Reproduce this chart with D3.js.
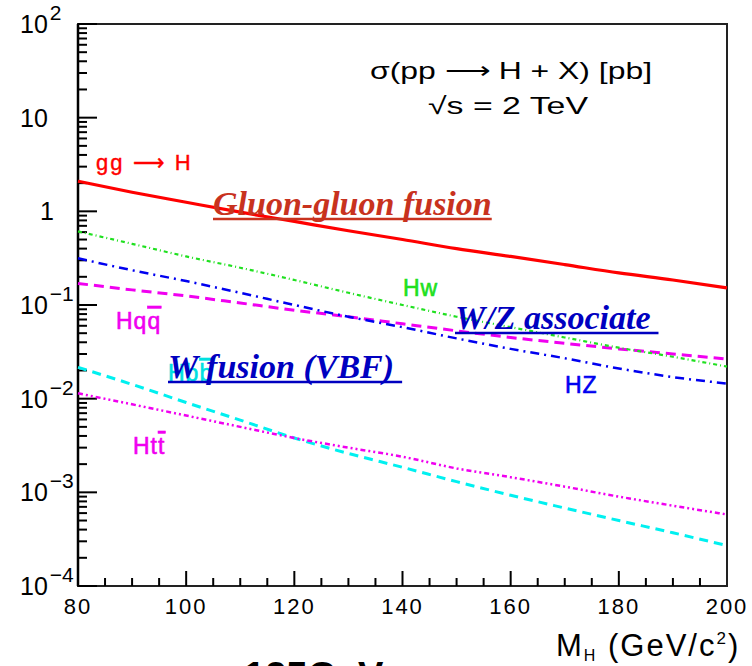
<!DOCTYPE html>
<html>
<head>
<meta charset="utf-8">
<script src="https://cdn.jsdelivr.net/npm/d3@7"></script>
<style>
  body { margin: 0; background: #fff; }
  svg { display: block; font-family: "Liberation Sans", Arial, sans-serif; }
</style>
</head>
<body>
<div id="chart"></div>
<script>
(function () {
    var width = 752, height = 666;

    // masses (GeV/c^2)
    var masses = [80, 90, 100, 110, 120, 130, 140, 150, 160, 170, 180, 190, 200];

    // cross sections in pb
    var ggH = [2.1, 1.6, 1.25, 0.98, 0.78, 0.62, 0.5, 0.4, 0.33, 0.27, 0.22, 0.185, 0.152];
    var hW  = [0.61, 0.45, 0.33, 0.25, 0.185, 0.135, 0.1, 0.075, 0.058, 0.045, 0.035, 0.028, 0.022];
    var hZ  = [0.315, 0.235, 0.18, 0.135, 0.1, 0.075, 0.058, 0.044, 0.034, 0.027, 0.021, 0.017, 0.0145];
    var hqq = [0.17, 0.145, 0.125, 0.105, 0.088, 0.075, 0.063, 0.053, 0.045, 0.039, 0.034, 0.030, 0.0265];
    var hbb = [0.0216, 0.0142, 0.0091, 0.0059, 0.0038, 0.0026, 0.00185, 0.0013, 0.00093, 0.00068, 0.0005, 0.00037, 0.00027];
    var htt = [0.0114, 0.0087, 0.0066, 0.005, 0.0038, 0.003, 0.0024, 0.0018, 0.00145, 0.00115, 0.0009, 0.00072, 0.00058];

    var xTickLabels = [80, 100, 120, 140, 160, 180, 200];
    var yDecades = [2, 1, 0, -1, -2, -3, -4];

    var svg = d3.select("#chart")
        .append("svg")
        .attr("width", width)
        .attr("height", height);

    var left = 78, right = 727, top = 24, bottom = 586;

    var x = d3.scaleLinear().domain([80, 200]).range([left, right]);
    var y = d3.scaleLog().domain([1e-4, 100]).range([bottom, top]);

    // frame
    svg.append("rect")
        .attr("x", left).attr("y", top)
        .attr("width", right - left).attr("height", bottom - top)
        .attr("fill", "none").attr("stroke", "#222").attr("stroke-width", 2);
    svg.append("line")
        .attr("x1", left).attr("x2", left).attr("y1", top).attr("y2", bottom)
        .attr("stroke", "#000").attr("stroke-width", 2.5);

    // y ticks (inside), log minors
    var yTicks = y.ticks();
    svg.selectAll(".ytick")
        .data(yTicks)
        .enter().append("line")
        .attr("class", "ytick")
        .attr("x1", left)
        .attr("x2", function (d) {
            var m = Math.round(d / Math.pow(10, Math.floor(Math.log10(d) + 1e-9)));
            return left + (m === 1 ? 19 : 9);
        })
        .attr("y1", function (d) { return y(d); })
        .attr("y2", function (d) { return y(d); })
        .attr("stroke", "#000").attr("stroke-width", 2);

    // y labels
    var yl = svg.selectAll(".ylab")
        .data(yDecades)
        .enter().append("text")
        .attr("class", "ylab")
        .attr("x", 20)
        .attr("y", function (d) { return y(Math.pow(10, d)) + 9; })
        .attr("font-size", 25)
        .attr("fill", "#000");
    yl.each(function (d) {
        var t = d3.select(this);
        if (d === 0) { t.attr("x", 40).text("1"); return; }
        if (d === 1) { t.text("10"); return; }
        t.append("tspan").text("10");
        t.append("tspan")
            .attr("dx", 2)
            .attr("dy", -13)
            .attr("font-size", 21)
            .text(d === 2 ? "2" : "\u2212" + (-d));
    });

    // x ticks (inside)
    var xTicks = d3.range(85, 200, 5);
    svg.selectAll(".xtick")
        .data(xTicks)
        .enter().append("line")
        .attr("class", "xtick")
        .attr("x1", function (d) { return x(d); })
        .attr("x2", function (d) { return x(d); })
        .attr("y1", bottom)
        .attr("y2", function (d) { return bottom - (d % 20 === 0 ? 15 : 8); })
        .attr("stroke", "#000").attr("stroke-width", 2);

    svg.selectAll(".xlab")
        .data(xTickLabels)
        .enter().append("text")
        .attr("class", "xlab")
        .attr("x", function (d) { return x(d); })
        .attr("y", 614)
        .attr("text-anchor", "middle")
        .attr("font-size", 22)
        .attr("letter-spacing", 2)
        .text(function (d) { return d; });

    // axis title
    var xt = svg.append("text")
        .attr("x", 556).attr("y", 656)
        .attr("font-size", 31)
        .attr("letter-spacing", 2);
    xt.append("tspan").text("M");
    xt.append("tspan").attr("font-size", 16).attr("dy", 5).text("H");
    xt.append("tspan").attr("dy", -5).text(" (GeV/c");
    xt.append("tspan").attr("font-size", 17).attr("dy", -12).text("2");
    xt.append("tspan").attr("dy", 12).text(")");

    // curves
    var series = [
        { name: "Hbb", values: hbb, color: "#00f0f0", width: 3, dash: "9,6" },
        { name: "Htt", values: htt, color: "#f000f0", width: 2.5, dash: "5,3,2,3,2,3" },
        { name: "Hqq", values: hqq, color: "#f000f0", width: 3, dash: "10,6" },
        { name: "HZ", values: hZ, color: "#0000f0", width: 2.5, dash: "9,5,2,5" },
        { name: "HW", values: hW, color: "#20e020", width: 2.2, dash: "4,3,1,3" },
        { name: "ggH", values: ggH, color: "#ff0000", width: 3.2, dash: null }
    ];

    var line = d3.line()
        .x(function (d) { return x(d[0]); })
        .y(function (d) { return y(d[1]); })
        .curve(d3.curveMonotoneX);

    svg.selectAll(".curve")
        .data(series)
        .enter().append("path")
        .attr("class", "curve")
        .attr("d", function (s) { return line(d3.zip(masses, s.values)); })
        .attr("fill", "none")
        .attr("stroke", function (s) { return s.color; })
        .attr("stroke-width", function (s) { return s.width; })
        .attr("stroke-dasharray", function (s) { return s.dash; });

    // curve labels
    function label(px, py, color, parts) {
        var t = svg.append("text").attr("x", px).attr("y", py)
            .attr("font-size", 23).attr("letter-spacing", 1)
            .attr("fill", color).attr("stroke", color).attr("stroke-width", 0.6);
        parts.forEach(function (p) {
            var s = t.append("tspan").text(p[0]);
            if (p[1]) s.style("text-decoration", "overline");
        });
        return t;
    }
    svg.append("text").attr("x", 96).attr("y", 170)
        .attr("font-size", 22).attr("letter-spacing", 2).attr("fill", "#ff0000")
        .attr("stroke", "#ff0000").attr("stroke-width", 0.4)
        .text("gg \u27f6 H");
    label(403, 296, "#20e020", [["Hw"]]);
    label(116, 329, "#f000f0", [["Hq"], ["q", true]]);
    label(168, 381, "#00e0e0", [["Hb"], ["b", true]]);
    label(133, 454, "#f000f0", [["Ht"], ["t", true]]);
    label(565, 393, "#0000f0", [["HZ"]]);

    // process title
    svg.append("text").attr("x", 370).attr("y", 79)
        .attr("font-size", 24)
        .attr("textLength", 282).attr("lengthAdjust", "spacingAndGlyphs")
        .text("\u03c3(pp \u27f6 H + X) [pb]");
    svg.append("text").attr("x", 428).attr("y", 114)
        .attr("font-size", 24)
        .attr("textLength", 160).attr("lengthAdjust", "spacingAndGlyphs")
        .text("\u221as = 2 TeV");

    // overlaid annotations
    function note(px, py, color, txt, size, extra) {
        var t = svg.append("text").attr("x", px).attr("y", py)
            .style("font-family", "'Liberation Serif', 'Times New Roman', serif")
            .style("font-style", "italic").style("font-weight", "bold")
            .attr("font-size", size).attr("fill", color)
            .text(txt);
        var w = t.node().getComputedTextLength();
        svg.append("line")
            .attr("x1", px).attr("x2", px + w + extra)
            .attr("y1", py + 4).attr("y2", py + 4)
            .attr("stroke", color).attr("stroke-width", 2.5);
    }
    note(213, 215, "#c8321e", "Gluon-gluon fusion", 34, 0);
    note(455, 329, "#0000c0", "W/Z associate", 34, 8);
    note(168, 378, "#0000c0", "W fusion (VBF)", 34, 8);

    // cut off footer text
    svg.append("text").attr("x", 244).attr("y", 689)
        .attr("font-size", 38).attr("font-weight", "bold")
        .text("125GeV");
})();
</script>
</body>
</html>
